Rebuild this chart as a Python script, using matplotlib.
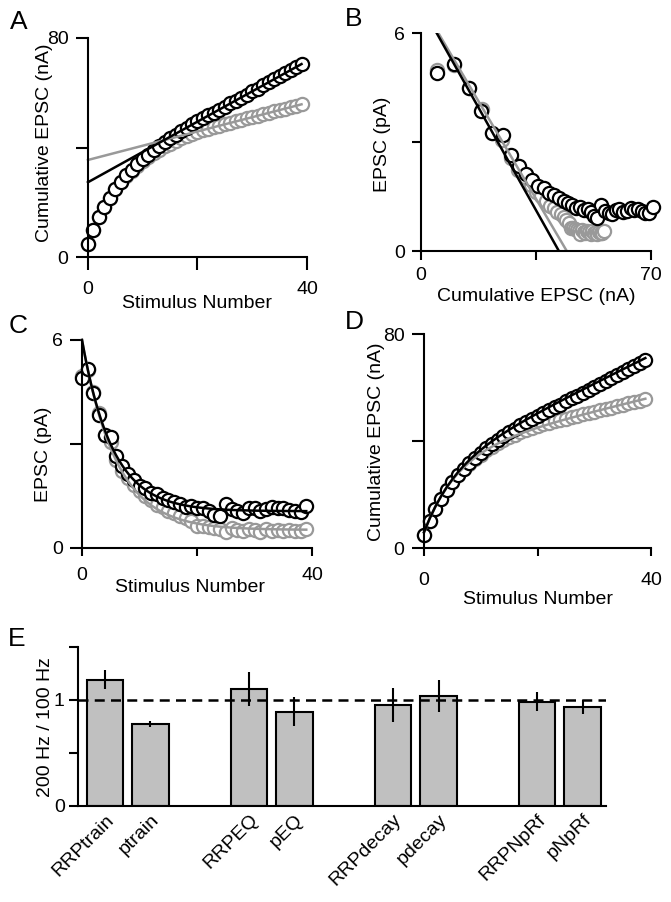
import numpy as np
import matplotlib
matplotlib.use('Agg')
import matplotlib.pyplot as plt

plt.rcParams['font.family'] = ['Liberation Sans', 'DejaVu Sans']
plt.rcParams['font.size'] = 14
plt.rcParams['axes.linewidth'] = 1.5

# EPSC amplitude per stimulus (pA)
stim = np.arange(40)
epsc_100 = [4.90, 5.16, 4.48, 3.84, 3.26, 3.19, 2.65, 2.35, 2.12, 1.95,
            1.79, 1.74, 1.59, 1.55, 1.45, 1.39, 1.32, 1.27, 1.19, 1.21,
            1.14, 1.16, 1.08, 0.96, 0.91, 1.28, 1.11, 1.06, 1.01, 1.14,
            1.16, 1.08, 1.11, 1.18, 1.14, 1.16, 1.10, 1.06, 1.04, 1.20]
epsc_200 = [4.97, 5.12, 4.50, 3.90, 3.25, 3.05, 2.55, 2.23, 2.03, 1.83,
            1.63, 1.51, 1.38, 1.25, 1.18, 1.08, 1.01, 0.93, 0.85, 0.78,
            0.64, 0.62, 0.60, 0.57, 0.54, 0.47, 0.57, 0.52, 0.50, 0.54,
            0.52, 0.47, 0.54, 0.50, 0.52, 0.48, 0.52, 0.50, 0.49, 0.54]

# linear fits for panel B (slope, intercept)
eq_fit_100 = (-0.1613, 6.77)
eq_fit_200 = (-0.1535, 6.81)
# exponential fits for panel C (steady state, amplitude, tau)
exp_fit_100 = (1.06, 4.94, 5.3)
exp_fit_200 = (0.52, 5.48, 5.9)

# panel E
bar_labels = ['RRPtrain', 'ptrain', 'RRPEQ', 'pEQ', 'RRPdecay', 'pdecay', 'RRPNpRf', 'pNpRf']
ratio = [1.19, 0.77, 1.10, 0.887, 0.946, 1.034, 0.981, 0.934]
ratio_err = [0.085, 0.03, 0.16, 0.14, 0.16, 0.155, 0.09, 0.066]

cum_100 = np.cumsum(epsc_100)
cum_200 = np.cumsum(epsc_200)

blk = 'black'
gry = '#999999'
mk = dict(marker='o', ms=9.5, mew=1.6, mfc='white', ls='none', clip_on=False)

fig = plt.figure(figsize=(6.71, 9.02), dpi=100)

def style(ax, tl_x=6, tl_y=9, pad_x=8, pad_y=5):
    ax.spines['top'].set_visible(False)
    ax.spines['right'].set_visible(False)
    ax.tick_params(axis='x', direction='out', length=tl_x, width=1.5, pad=pad_x)
    ax.tick_params(axis='y', direction='out', length=tl_y, width=1.5, pad=pad_y)

# A
axA = fig.add_axes([0.1311, 0.7147, 0.3264, 0.2435])
axA.plot(stim, cum_200, mec=gry, **mk)
axA.plot(stim, cum_100, mec=blk, **mk)
for cum, c in [(cum_200, gry), (cum_100, blk)]:
    m, b = np.polyfit(stim[20:], cum[20:], 1)
    axA.plot([0, 39], [b, b + m * 39], color=c, lw=1.8, clip_on=False)
axA.set_xlim(0, 40)
axA.set_ylim(0, 80)
axA.set_xticks([0, 20, 40], ['0', '', '40'])
axA.set_yticks([0, 40, 80], ['0', '', '80'])
style(axA, 9, 9, 8, 5)
axA.set_xlabel('Stimulus Number')
axA.xaxis.set_label_coords(0.5, -0.17)
axA.set_ylabel('Cumulative EPSC (nA)')
axA.yaxis.set_label_coords(-0.16, 0.52)

# B
axB = fig.add_axes([0.6274, 0.7217, 0.3428, 0.2417])
axB.plot(cum_200, epsc_200, mec=gry, **mk)
axB.plot(cum_100, epsc_100, mec=blk, **mk)
for (m, b), c in [(eq_fit_200, gry), (eq_fit_100, blk)]:
    xs = np.array([(6 - b) / m, -b / m])
    axB.plot(xs, m * xs + b, color=c, lw=1.8)
axB.set_xlim(0, 70)
axB.set_ylim(0, 6)
axB.set_xticks([0, 35, 70], ['0', '', '70'])
axB.set_yticks([0, 3, 6], ['0', '', '6'])
style(axB, 6.5, 6.5, 5, 5)
axB.set_xlabel('Cumulative EPSC (nA)')
axB.xaxis.set_label_coords(0.5, -0.17)
axB.set_ylabel('EPSC (pA)')
axB.yaxis.set_label_coords(-0.13, 0.49)

# C
axC = fig.add_axes([0.1222, 0.3925, 0.3428, 0.2306])
axC.plot(stim, epsc_200, mec=gry, **mk)
axC.plot(stim, epsc_100, mec=blk, **mk)
xf = np.linspace(0, 39, 200)
for (ss, amp, tau), c in [(exp_fit_200, gry), (exp_fit_100, blk)]:
    axC.plot(xf, ss + amp * np.exp(-xf / tau), color=c, lw=1.8, clip_on=False)
axC.set_xlim(0, 40)
axC.set_ylim(0, 6)
axC.set_xticks([0, 20, 40], ['0', '', '40'])
axC.set_yticks([0, 3, 6], ['0', '', '6'])
style(axC, 6, 8.5, 8, 5)
axC.set_xlabel('Stimulus Number')
axC.xaxis.set_label_coords(0.47, -0.15)
axC.set_ylabel('EPSC (pA)')
axC.yaxis.set_label_coords(-0.13, 0.45)

# D
axD = fig.add_axes([0.6319, 0.3921, 0.3383, 0.2373])
axD.plot(stim, cum_200, mec=gry, **mk)
axD.plot(stim, cum_100, mec=blk, **mk)
for (ss, amp, tau), c in [(exp_fit_200, gry), (exp_fit_100, blk)]:
    axD.plot(stim, np.cumsum(ss + amp * np.exp(-stim / tau)), color=c, lw=1.8, clip_on=False)
axD.set_xlim(0, 40)
axD.set_ylim(0, 80)
axD.set_xticks([0, 20, 40], ['0', '', '40'])
axD.set_yticks([0, 40, 80], ['0', '', '80'])
style(axD, 6, 9, 11, 5)
axD.set_xlabel('Stimulus Number')
axD.xaxis.set_label_coords(0.5, -0.2)
axD.set_ylabel('Cumulative EPSC (nA)')
axD.yaxis.set_label_coords(-0.17, 0.5)

# E
axE = fig.add_axes([0.1162, 0.1068, 0.7869, 0.1763])
pos = np.array([g * 3.165 + k for g in range(4) for k in (0, 1)])
axE.bar(pos, ratio, width=0.81, color='#c0c0c0', edgecolor='black', lw=1.5, zorder=2)
axE.errorbar(pos, ratio, yerr=ratio_err, fmt='none', ecolor='black', elinewidth=1.5, capsize=0, zorder=3)
axE.axhline(1, color='black', ls=(0, (4, 2.5)), lw=1.8, zorder=4)
axE.set_xlim(-0.593, 11.01)
axE.set_ylim(0, 1.5)
axE.set_yticks([0, 0.5, 1, 1.5], ['0', '', '1', ''])
axE.set_xticks(pos)
axE.set_xticklabels(bar_labels, rotation=45, ha='right', rotation_mode='anchor')
style(axE, 0, 6.5, 4, 3)
axE.set_ylabel('200 Hz / 100 Hz')
axE.yaxis.set_label_coords(-0.045, 0.495)

for s, x, y in [('A', 19, 22), ('B', 354, 19), ('C', 18, 326), ('D', 354, 322), ('E', 17, 639)]:
    fig.text(x / 671, 1 - y / 902, s, fontsize=19, ha='center', va='center')

fig.savefig('out.png', dpi=100)
